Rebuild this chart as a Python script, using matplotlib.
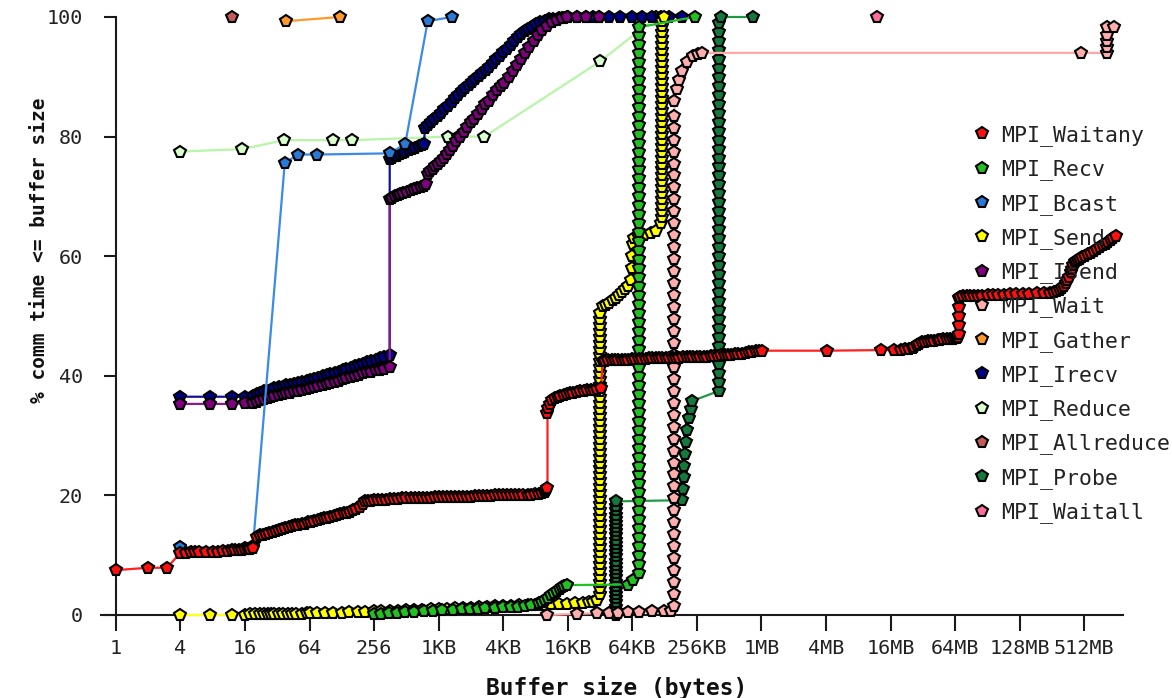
import matplotlib
matplotlib.use("Agg")
import matplotlib.pyplot as plt
from matplotlib.lines import Line2D
from matplotlib.ticker import FixedLocator, FixedFormatter, NullLocator

# ---------------- data: (buffer size in bytes, % comm time <= size) ----------------
waitany = [(1, 7.5), (2, 7.9), (3, 7.9), (4, 10.4), (4.5, 10.4), (5, 10.5), (5.5, 10.5), (6, 10.5),
           (7, 10.6), (8, 10.6), (9, 10.6), (10, 10.7), (11, 10.7), (12, 10.8), (13, 10.8), (14, 10.9),
           (15, 10.9), (16, 11.0), (17, 11.0), (18, 11.1), (19, 11.2),
           (20.5, 13.1), (22, 13.3), (23.5, 13.4), (25, 13.6), (27, 13.7), (29, 13.9), (31, 14.1), (33, 14.2),
           (35.5, 14.4), (38, 14.5), (41, 14.7), (44, 14.8), (47, 15.0), (50, 15.1), (54, 15.2), (58, 15.3),
           (62, 15.5), (66, 15.6), (71, 15.7), (76, 15.9), (82, 16.0), (88, 16.2), (94, 16.3), (100, 16.4),
           (108, 16.6), (116, 16.7), (124, 16.9), (133, 17.0), (142, 17.1), (152, 17.3), (163, 17.5),
           (175, 17.7), (188, 18.0), (200, 18.6), (210, 19.0), (225, 19.1), (240, 19.1), (256, 19.2),
           (280, 19.2), (305, 19.3), (330, 19.3), (360, 19.4), (395, 19.4), (430, 19.4), (470, 19.5),
           (512, 19.5), (560, 19.5), (610, 19.5), (665, 19.6), (725, 19.6), (790, 19.6), (860, 19.6),
           (940, 19.7), (1024, 19.7), (1120, 19.7), (1220, 19.7), (1330, 19.7), (1450, 19.8), (1580, 19.8),
           (1720, 19.8), (1880, 19.8), (2048, 19.8), (2230, 19.9), (2430, 19.9), (2650, 19.9), (2900, 19.9),
           (3150, 19.9), (3450, 20.0), (3750, 20.0), (4096, 20.0), (4460, 20.0), (4870, 20.0), (5300, 20.0),
           (5800, 20.1), (6300, 20.1), (6900, 20.1), (7500, 20.1), (8192, 20.2), (8900, 20.3), (9500, 20.4),
           (10000, 20.6), (10300, 20.9), (10600, 21.3),
           (10600, 33.8), (10800, 34.6), (11200, 35.3), (11800, 35.9), (12500, 36.3), (13200, 36.5),
           (14000, 36.7), (15000, 36.8), (16000, 37.0), (17200, 37.1), (18500, 37.2), (20000, 37.3),
           (21500, 37.4), (23000, 37.5), (25000, 37.6), (27000, 37.7), (29000, 37.7), (31000, 37.8),
           (33500, 38.0),
           (34600, 42.5), (36500, 42.5), (39000, 42.6), (42000, 42.6), (45000, 42.6), (48500, 42.7),
           (52000, 42.7), (56000, 42.7), (60000, 42.7), (65000, 42.8), (70000, 42.8), (75000, 42.8),
           (81000, 42.8), (87000, 42.8), (93000, 42.9), (100000, 42.9), (108000, 42.9), (116000, 42.9),
           (125000, 42.9), (135000, 43.0), (145000, 43.0), (156000, 43.0), (168000, 43.0), (180000, 43.0),
           (195000, 43.1), (210000, 43.1), (225000, 43.1), (242000, 43.1), (262000, 43.2), (282000, 43.2),
           (304000, 43.2), (328000, 43.2), (354000, 43.3), (380000, 43.3), (410000, 43.3), (440000, 43.4),
           (475000, 43.4), (512000, 43.5), (550000, 43.5), (595000, 43.6), (640000, 43.6), (690000, 43.7),
           (745000, 43.8), (800000, 43.9), (865000, 44.0), (930000, 44.1), (1000000, 44.1), (1050000, 44.2),
           (4300000, 44.2), (13600000, 44.3), (18000000, 44.3),
           (21000000, 44.3), (23000000, 44.4), (25000000, 44.5), (27000000, 44.7), (28000000, 44.8),
           (29500000, 45.1), (31000000, 45.4), (33000000, 45.6), (35000000, 45.7), (37500000, 45.8),
           (40000000, 45.9), (43000000, 45.9), (46000000, 46.0), (49000000, 46.0), (52000000, 46.1),
           (56000000, 46.1), (60000000, 46.2), (64000000, 46.2), (67000000, 46.3), (70000000, 46.4),
           (72000000, 46.5), (73600000, 47.0), (73600000, 48.5), (73600000, 50.0), (73600000, 51.5),
           (73600000, 53.0), (75000000, 53.2), (80000000, 53.3), (86000000, 53.3), (93000000, 53.3),
           (100000000, 53.4), (110000000, 53.4), (120000000, 53.4), (135000000, 53.5), (150000000, 53.5),
           (170000000, 53.5), (190000000, 53.5), (220000000, 53.6), (250000000, 53.6), (290000000, 53.7),
           (330000000, 53.7), (390000000, 53.8), (450000000, 53.8), (510000000, 53.9), (560000000, 54.0),
           (600000000, 54.1), (634000000, 54.3), (660000000, 54.6), (690000000, 55.0), (720000000, 55.5),
           (745000000, 56.0), (770000000, 56.6), (800000000, 57.3), (825000000, 57.9), (850000000, 58.5),
           (875000000, 59.0), (900000000, 59.2), (940000000, 59.4), (980000000, 59.6), (1030000000, 59.8),
           (1100000000, 60.0), (1170000000, 60.3), (1250000000, 60.6), (1330000000, 60.9),
           (1400000000, 61.2), (1500000000, 61.5), (1600000000, 61.8), (1700000000, 62.1),
           (1800000000, 62.4), (1900000000, 62.7), (2000000000, 63.0), (2100000000, 63.4)]

recv_low = [(256, 0.2), (300, 0.25), (350, 0.3), (420, 0.4), (500, 0.45), (600, 0.5), (750, 0.6),
            (900, 0.7), (1100, 0.8), (1400, 0.9), (1700, 0.95), (2000, 1.0), (2400, 1.05), (2800, 1.1),
            (3400, 1.2), (4096, 1.3), (4800, 1.35), (5600, 1.4), (6500, 1.55), (7500, 1.7), (8900, 2.0),
            (9500, 2.2), (10000, 2.5), (10700, 2.9), (11500, 3.3), (12200, 3.6), (13000, 4.0),
            (13800, 4.3), (14500, 4.6), (15200, 4.8), (16000, 5.0), (60000, 5.1), (66000, 5.8)]
recv_col_x = 76000
recv_col_y = [7, 8.5, 10, 11.5, 13, 14.5, 16, 17.5, 19, 20.5, 22, 23.5, 25, 26.5, 28, 29.5, 31, 32.5, 34,
              35.5, 37, 38.5, 40, 41.5, 43, 44.5, 46, 47.5, 49, 50.5, 52, 53.5, 55, 56.5, 58, 59.5, 61,
              62.5, 64, 65.5, 67, 68.5, 70, 71.5, 73, 74.5, 76, 77.5, 79, 80.5, 82, 83.5, 85, 86.5, 88,
              89.5, 91, 92.5, 94, 95.5, 97, 98.3]
recv_top = [(249000, 100)]

bcast = [(4, 11.3), (16, 11.2), (19, 11.5), (37.6, 75.6), (50, 77.0), (75, 77.0), (360, 77.2),
         (500, 78.8), (810, 99.3), (1350, 100)]

send_low = [(4, 0), (7.5, 0), (12, 0), (16, 0.05), (18, 0.1), (20, 0.1), (22, 0.1), (24, 0.1), (26, 0.1),
            (28, 0.12), (30, 0.15), (33, 0.15), (36, 0.17), (40, 0.2), (44, 0.2), (48, 0.22), (54, 0.25),
            (60, 0.27), (64, 0.3), (75, 0.32), (90, 0.35), (105, 0.37), (128, 0.4), (150, 0.45),
            (180, 0.5), (210, 0.55), (256, 0.6), (300, 0.65), (360, 0.7), (430, 0.75), (512, 0.8),
            (600, 0.85), (720, 0.9), (860, 0.95), (1024, 1.0), (1220, 1.05), (1450, 1.1), (1720, 1.15),
            (2048, 1.2), (2430, 1.3), (2900, 1.4), (3450, 1.45), (4096, 1.5), (4870, 1.55), (5800, 1.6),
            (6900, 1.65), (8192, 1.7), (9700, 1.75), (11500, 1.8), (13700, 1.85), (16000, 1.9),
            (19000, 1.95), (22500, 2.0), (26000, 2.1), (28000, 2.2), (31000, 2.5)]
send_col1_x = 33000
send_col1_y = [3.5, 4.5, 5.5, 6.5, 7.5, 8.5, 9.5, 10.5, 11.5, 12.5, 13.5, 14.5, 15.5, 16.5, 17.5, 18.5,
               19.5, 20.5, 21.5, 22.5, 23.5, 24.5, 25.5, 26.5, 27.5, 28.5, 29.5, 30.5, 31.5, 32.5, 33.5,
               34.5, 35.5, 36.5, 37.5, 38.5, 39.5, 40.5, 41.5, 42.5, 43.5, 44.5, 45.5, 46.5, 47.5, 48.5,
               49.5, 50.5]
send_mid = [(34600, 51.6), (37000, 51.9), (40000, 52.2), (43000, 52.6), (46000, 53.0), (49500, 53.5),
            (53000, 54.0), (56500, 54.5), (60000, 55.0), (64000, 56.0), (65000, 58.0), (65500, 60.0),
            (66000, 62.0), (68000, 63.0), (75000, 63.2), (85000, 63.5), (97000, 63.9), (110000, 64.2),
            (122000, 65.5)]
send_col2_x = 125000
send_col2_y = [66.5, 67.5, 68.5, 69.5, 70.5, 71.5, 72.5, 73.5, 74.5, 75.5, 76.5, 77.5, 78.5, 79.5, 80.5,
               81.5, 82.5, 83.5, 84.5, 85.5, 86.5, 87.5, 88.5, 89.5, 90.5, 91.5, 92.5, 93.5, 94.5, 95.5,
               96.5, 97.5, 98.5, 99.3]
send_top = [(128000, 100)]

isend = [(4, 35.3), (7.5, 35.3), (12, 35.3), (16, 35.4), (19, 35.5), (20.5, 35.7), (22, 36.0), (24, 36.2),
         (26, 36.3), (28, 36.5), (30, 36.6), (33, 36.8), (36, 36.9), (39, 37.1), (42, 37.2), (46, 37.4),
         (50, 37.5), (55, 37.7), (60, 37.8), (65, 38.0), (70, 38.1), (77, 38.3), (85, 38.5), (93, 38.6),
         (100, 38.8), (110, 39.0), (120, 39.2), (130, 39.4), (140, 39.6), (155, 39.8), (170, 40.0),
         (185, 40.2), (200, 40.4), (220, 40.6), (240, 40.7), (265, 40.9), (290, 41.0), (320, 41.2),
         (358, 41.4),
         (358, 69.5), (380, 69.8), (400, 70.0), (425, 70.2), (450, 70.4), (480, 70.6), (520, 70.8),
         (560, 71.0), (600, 71.2), (650, 71.4), (700, 71.6), (740, 71.8), (780, 72.0), (809, 73.8),
         (850, 74.2), (900, 74.6), (950, 75.0), (1000, 75.5), (1070, 76.0), (1150, 76.5), (1220, 77.1),
         (1300, 77.8), (1400, 78.5), (1500, 79.2), (1620, 80.0), (1750, 80.8), (1900, 81.6), (2050, 82.4),
         (2200, 83.0), (2400, 83.8), (2600, 84.6), (2800, 85.4), (3000, 86.0), (3300, 87.0), (3600, 87.8),
         (3900, 88.4), (4200, 89.0), (4600, 90.0), (5000, 91.0), (5500, 92.0), (6000, 93.0), (6600, 94.0),
         (7200, 95.0), (7900, 96.0), (8700, 97.0), (9500, 97.8), (10500, 98.5), (11700, 99.1),
         (13000, 99.5), (14500, 99.8), (16000, 100), (20000, 100), (24000, 100), (32000, 100)]

wait_low = [(10500, 0), (20000, 0.2), (31000, 0.3), (40000, 0.4), (48000, 0.4), (60000, 0.5),
            (76000, 0.5), (100000, 0.6), (130000, 0.6), (150000, 0.7)]
wait_col_x = 162000
wait_col_y = [1.5, 3.5, 5.5, 7.5, 9.5, 11.5, 13.5, 15.5, 17.5, 19.5, 21.5, 23.5, 25.5, 27.5, 29.5, 31.5,
              33.5, 35.5, 37.5, 39.5, 41.5, 43.5, 45.5, 47.5, 49.5, 51.5, 53.5, 55.5, 57.5, 59.5, 61.5,
              63.5, 65.5, 67.5, 69.5, 71.5, 73.5, 75.5, 77.5, 79.5, 81.5, 83.5, 86]
wait_high = [(170000, 88), (178000, 89.5), (190000, 91), (210000, 92.5), (240000, 93.5), (270000, 93.8),
             (290000, 94.0), (1000000000, 94.0), (1750000000, 94.0), (1750000000, 95.0),
             (1750000000, 96.0), (1750000000, 97.0), (1750000000, 98.3), (2040000000, 98.3)]

gather = [(39, 99.3), (122, 100)]

irecv = [(4, 36.5), (7.5, 36.5), (12, 36.5), (16, 36.5), (19, 36.6), (20.5, 36.9), (22, 37.2), (24, 37.4),
         (26, 37.5), (28, 37.7), (30, 37.9), (33, 38.1), (36, 38.2), (39, 38.4), (42, 38.5), (46, 38.7),
         (50, 38.8), (55, 39.0), (60, 39.2), (65, 39.3), (70, 39.5), (77, 39.7), (85, 39.9), (93, 40.1),
         (100, 40.3), (110, 40.5), (120, 40.7), (130, 40.9), (140, 41.1), (155, 41.3), (170, 41.6),
         (185, 41.8), (200, 42.0), (220, 42.3), (240, 42.5), (265, 42.7), (290, 43.0), (320, 43.2),
         (358, 43.4),
         (358, 76.3), (380, 76.5), (400, 76.7), (420, 76.8), (450, 77.1), (480, 77.3), (500, 77.5),
         (540, 77.7), (580, 77.9), (620, 78.1), (670, 78.4), (720, 78.6), (750, 78.7), (760, 81.5),
         (810, 82.0), (870, 82.4), (930, 82.9), (1000, 83.4), (1080, 84.0), (1160, 84.6), (1250, 85.2),
         (1350, 85.8), (1450, 86.4), (1560, 87.0), (1680, 87.6), (1800, 88.1), (1950, 88.6), (2100, 89.1),
         (2250, 89.6), (2430, 90.1), (2620, 90.6), (2820, 91.1), (3040, 91.7), (3280, 92.3), (3540, 92.9),
         (3820, 93.5), (4120, 94.1), (4440, 94.7), (4800, 95.3), (5200, 96.0), (5600, 96.6), (6000, 97.1),
         (6500, 97.6), (7000, 98.0), (7600, 98.4), (8200, 98.8), (9000, 99.1), (10000, 99.4),
         (11000, 99.6), (12000, 99.7), (13500, 99.8), (15000, 99.9), (16500, 100), (20000, 100),
         (24000, 100), (28000, 100), (32000, 100), (40000, 100), (50000, 100), (65536, 100), (80000, 100),
         (100000, 100), (120000, 100), (145000, 100), (192000, 100)]

reduce_ = [(4, 77.5), (15, 77.9), (37, 79.4), (105, 79.4), (158, 79.4), (1243, 80.0), (1540, 80.0),
           (2740, 80.0), (33000, 92.6), (110000, 100)]

allreduce = [(12, 100)]

probe_col1_x = 45700
probe_col1_y = [0, 0.7, 1.4, 2.1, 2.8, 3.5, 4.2, 4.9, 5.6, 6.3, 7, 7.7, 8.4, 9.1, 9.8, 10.5, 11.2, 11.9,
                12.6, 13.3, 14, 14.7, 15.4, 16.1, 16.8, 17.5, 18.2, 19]
probe_mid = [(192000, 19.2), (194000, 21), (197000, 23), (200000, 25), (203000, 27), (206000, 29),
             (212000, 31), (220000, 33), (230000, 34.5), (238000, 35.8), (425000, 37.5)]
probe_col2_x = 425000
probe_col2_y = [39, 40.5, 42, 43.5, 45, 46.5, 48, 49.5, 51, 52.5, 54, 55.5, 57, 58.5, 60, 61.5, 63, 64.5,
                66, 67.5, 69, 70.5, 72, 73.5, 75, 76.5, 78, 79.5, 81, 82.5, 84, 85.5, 87, 88.5, 90, 91.5,
                93, 94.5, 96, 97.5, 99]
probe_top = [(444000, 100), (880000, 100)]

waitall = [(12400000, 100)]

names = ["MPI_Waitany", "MPI_Recv", "MPI_Bcast", "MPI_Send", "MPI_Isend", "MPI_Wait",
         "MPI_Gather", "MPI_Irecv", "MPI_Reduce", "MPI_Allreduce", "MPI_Probe", "MPI_Waitall"]

xtick_bytes = [1, 4, 16, 64, 256, 1024, 4096, 16384, 65536, 262144, 1048576, 4194304,
               16777216, 67108864, 268435456, 1073741824]
xtick_labels = ["1", "4", "16", "64", "256", "1KB", "4KB", "16KB", "64KB", "256KB", "1MB", "4MB",
                "16MB", "64MB", "128MB", "512MB"]
ytick_vals = [0, 20, 40, 60, 80, 100]

# ---------------- assemble series ----------------
recv = recv_low + [(recv_col_x, v) for v in recv_col_y] + recv_top
send = send_low + [(send_col1_x, v) for v in send_col1_y] + send_mid + \
       [(send_col2_x, v) for v in send_col2_y] + send_top
wait = wait_low + [(wait_col_x, v) for v in wait_col_y] + wait_high
probe = [(probe_col1_x, v) for v in probe_col1_y] + probe_mid + \
        [(probe_col2_x, v) for v in probe_col2_y] + probe_top

series = [waitany, recv, bcast, send, isend, wait, gather, irecv, reduce_, allreduce, probe, waitall]
faces = ["#ff1010", "#22c022", "#2a7ad5", "#ffff00", "#800080", "#ffadad",
         "#ff9a2a", "#00008b", "#d8ffcc", "#c45a5a", "#137a3c", "#ff6b9b"]
lines = ["#ff2020", "#22c022", "#3a8ae8", "#ffff20", "#8a1a8a", "#ffa8a8",
         "#ff9a2a", "#10109a", "#b8f5a8", "#c45a5a", "#1f9a44", "#ff6b9b"]

MONO = "DejaVu Sans Mono"
W, H = 1172, 698
fig = plt.figure(figsize=(W / 100, H / 100), dpi=100)
L, R, T, B = 101, 1123, 17, 615
ax = fig.add_axes([L / W, (H - B) / H, (R - L) / W, (B - T) / H])

ax.set_xscale("log", base=2)
ax.set_xlim(2 ** -0.46, 2 ** 31.2)
ax.set_ylim(0, 100)

MS, MEW = 8.5, 1.5
n = len(series)
for i in reversed(range(n)):
    pts = series[i]
    xs = [p[0] for p in pts]
    ys = [p[1] for p in pts]
    z = 3 + (n - i)
    if i == 0:
        z = 30
    ax.plot(xs, ys, color=lines[i], lw=1.6, marker="p", ms=MS, mfc=faces[i], mec="black",
            mew=MEW, clip_on=False, zorder=z)

# axes styling
for s in ("top", "right"):
    ax.spines[s].set_visible(False)
ax.spines["left"].set_position(("data", 1))
for s in ("left", "bottom"):
    ax.spines[s].set_linewidth(1.5)
    ax.spines[s].set_color("#1a1a1a")

ax.xaxis.set_major_locator(FixedLocator(xtick_bytes))
ax.xaxis.set_major_formatter(FixedFormatter(xtick_labels))
ax.xaxis.set_minor_locator(NullLocator())
ax.set_yticks(ytick_vals)
ax.set_yticklabels([str(v) for v in ytick_vals])
ax.tick_params(axis="x", direction="out", length=11.5, width=1.5, color="#1a1a1a", pad=6,
               labelsize=14.5)
ax.tick_params(axis="y", direction="out", length=8.5, width=1.5, color="#1a1a1a", pad=15,
               labelsize=14.5)
for lab in ax.get_xticklabels() + ax.get_yticklabels():
    lab.set_family(MONO)
    lab.set_color("#222222")

ax.set_xlabel("Buffer size (bytes)", family=MONO, fontsize=16.5, fontweight="bold", color="#111111")
ax.xaxis.set_label_coords(617 / W, 1 - 688 / H, transform=fig.transFigure)
ax.xaxis.label.set_va("center")
ax.set_ylabel("% comm time <= buffer size", family=MONO, fontsize=14, fontweight="bold",
              color="#111111")
ax.yaxis.set_label_coords(40 / W, 1 - 250 / H, transform=fig.transFigure)
ax.yaxis.label.set_va("center")

handles = [Line2D([], [], ls="none", marker="p", ms=MS, mfc=faces[i], mec="black", mew=MEW)
           for i in range(n)]
leg = fig.legend(handles, names, loc="upper left", bbox_to_anchor=(971 / W, 1 - 125 / H),
                 frameon=False, handlelength=1.0, handletextpad=0.4, labelspacing=0.62,
                 borderpad=0, borderaxespad=0, prop={"family": MONO, "size": 15.5})
for t in leg.get_texts():
    t.set_color("#222222")

fig.savefig("out.png", dpi=100)
